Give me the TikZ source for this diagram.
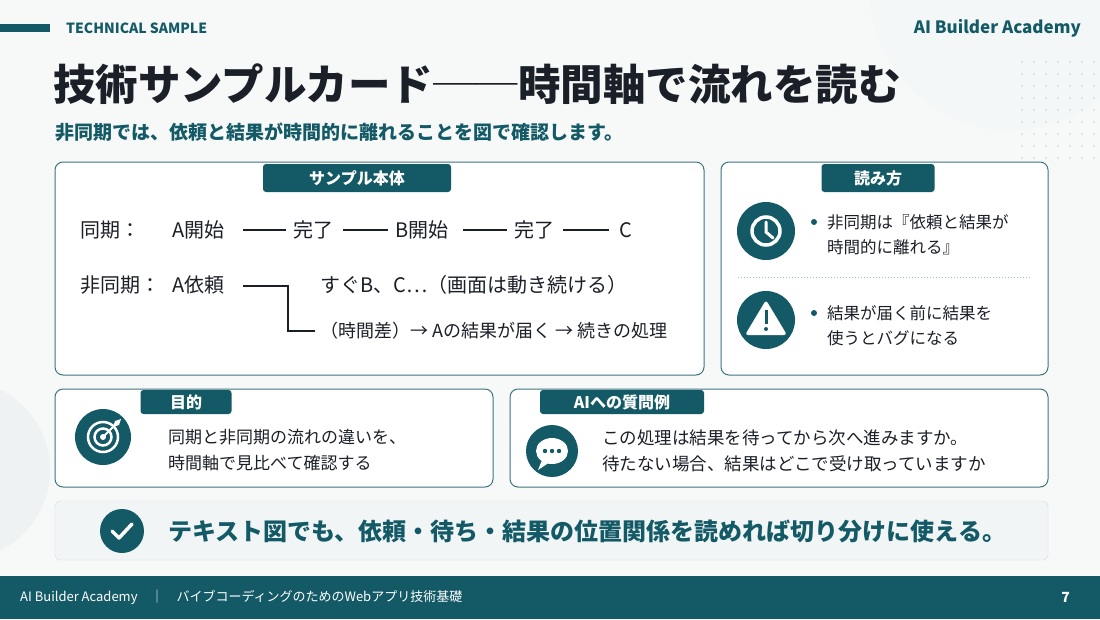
\documentclass[tikz,border=0pt]{standalone}
\usepackage{fontspec}
\setmainfont{Noto Sans CJK JP}
\newfontfamily\jpb{Noto Sans CJK JP Bold}[BoldFont={Noto Sans CJK JP Black}]
\begin{document}
\definecolor{teal1}{HTML}{145A66}
\definecolor{ink}{HTML}{1B1F28}
\definecolor{bgc}{HTML}{F7F8F8}
\definecolor{bord}{HTML}{3E7580}
\tikzset{x=1pt,y=-1pt,
 card/.style={draw=bord,line width=1pt,rounded corners=8pt,fill=white},
 tab/.style={fill=teal1,rounded corners=3pt,text=white,font=\bfseries\fontsize{16}{16}\selectfont,inner sep=0pt},
 row/.style={text=ink,font=\fontsize{20}{20}\selectfont,anchor=west,inner sep=0pt},
 txt/.style={text=ink,font=\fontsize{16.5}{25}\selectfont,anchor=west,inner sep=0pt,align=left},
 link/.style={draw=ink,line width=1.2pt},
 ic/.style={circle,fill=teal1,minimum size=58pt,inner sep=0pt}}
\begin{tikzpicture}
\useasboundingbox (0,0) rectangle (1100,619);
\fill[bgc] (0,0) rectangle (1100,619);
\fill[bgc!70!teal1!15] (1010,-10) circle (140);
\fill[bgc!96!teal1] (-40,470) circle (90);
\foreach \i in {0,...,6}{\foreach \j in {0,...,8}{\fill[teal1!25] (1022+12*\i,62+12*\j) circle (0.9);}}
% header
\fill[teal1] (0,24) rectangle (50,32);
\node[anchor=west,text=teal1,font=\bfseries\fontsize{14}{14}\selectfont,inner sep=0] (ts) at (66,28) {TECHNICAL SAMPLE};
\node[anchor=east,text=teal1,font=\bfseries\fontsize{17}{17}\selectfont,inner sep=0] (ab) at (1081,28) {AI Builder Academy};
\node[anchor=west,text=ink,font=\jpb\bfseries\fontsize{42.5}{42.5}\selectfont,inner sep=0] (title) at (53,84) {技術サンプルカード──時間軸で流れを読む};
\node[anchor=west,text=teal1,font=\bfseries\fontsize{19}{19}\selectfont,inner sep=0] (sub) at (55,132) {非同期では、依頼と結果が時間的に離れることを図で確認します。};
% main card
\draw[card] (55,162) rectangle (704,375);
\node[tab,minimum width=188pt,minimum height=28pt] (t1) at (357,178) {サンプル本体};
\node[row] (s1) at (80,230) {同期：};
\node[row] (a1) at (172,230) {A開始};
\node[row] (d1) at (293,230) {完了};
\node[row] (b1) at (395,230) {B開始};
\node[row] (d2) at (514,230) {完了};
\node[row] (c1) at (619,230) {C};
\draw[link] (243,230) -- ([xshift=-7pt]d1.west);
\draw[link] (343,230) -- ([xshift=-7pt]b1.west);
\draw[link] (463,230) -- ([xshift=-7pt]d2.west);
\draw[link] (563,230) -- ([xshift=-10pt]c1.west);
\node[row] (s2) at (80,285) {非同期：};
\node[row] (a2) at (172,285) {A依頼};
\node[row] (r1) at (320,285) {すぐB、C…（画面は動き続ける）};
\node[row,font=\fontsize{18}{18}\selectfont] (r2) at (320,331) {（時間差）→ Aの結果が届く → 続きの処理};
\coordinate (k1) at (288,286);
\draw[link] (243,286) -- (k1) -- (288,331) -- ([xshift=-5pt]r2.west);
% right card
\draw[card] (721,162) rectangle (1048,375);
\node[tab,minimum width=113pt,minimum height=28pt] (t2) at (878,178) {読み方};
\node[ic] (clk) at (766,231) {};
\draw[white,line width=3.5pt] (clk) circle (14);
\draw[white,line width=3pt,line cap=round] (766,222) -- (766,232) -- (773,238);
\fill[teal1] (814,222) circle (3);
\node[txt] (rt1) at (827,235) {非同期は『依頼と結果が\\時間的に離れる』};
\draw[teal1!40,dotted,line width=1pt] (738,277) -- (1032,277);
\node[ic] (wrn) at (766,320) {};
\fill[white,rounded corners=3pt] (766,300) -- (787,335) -- (745,335) -- cycle;
\fill[teal1] (764.5,310) rectangle (767.5,324);
\fill[teal1] (766,329) circle (2);
\fill[teal1] (814,313) circle (3);
\node[txt] (rt2) at (827,326) {結果が届く前に結果を\\使うとバグになる};
% purpose card
\draw[card] (55,389) rectangle (493,487);
\node[tab,minimum width=91pt,minimum height=24pt] (t3) at (186,402) {目的};
\node[ic,minimum size=56pt] (tgt) at (103,437) {};
\draw[white,line width=2.5pt] (tgt) circle (15);
\draw[white,line width=2.5pt] (tgt) circle (8.5);
\fill[white] (tgt) circle (3);
\draw[white,line width=2pt] (103,437) -- (116,424);
\fill[white] (115,421) -- (121,419) -- (119,425) -- (113,427) -- cycle;
\node[txt,font=\fontsize{17}{26}\selectfont] (pt) at (168,450) {同期と非同期の流れの違いを、\\時間軸で見比べて確認する};
% AI card
\draw[card] (510,389) rectangle (1048,487);
\node[tab,minimum width=164pt,minimum height=24pt] (t4) at (622,402) {AIへの質問例};
\node[ic,minimum size=52pt] (cht) at (552,451) {};
\fill[white] (552,451) ellipse (16 and 13);
\fill[white] (542,460) -- (538,470) -- (550,462) -- cycle;
\foreach \dx in {-7,0,7}{\fill[teal1] (552+\dx,451) circle (2.2);}
\node[txt,font=\fontsize{17.5}{26}\selectfont] (qt) at (602,451) {この処理は結果を待ってから次へ進みますか。\\待たない場合、結果はどこで受け取っていますか};
% banner
\draw[draw=teal1!20,fill=teal1!6,rounded corners=5pt] (55,501) rectangle (1048,560);
\node[circle,fill=teal1,minimum size=44pt,inner sep=0] (chk) at (122,531) {};
\draw[white,line width=3.5pt,line cap=round,line join=round] (112,531) -- (119,538) -- (132,524);
\node[anchor=west,text=teal1,font=\bfseries\fontsize{24}{24}\selectfont,inner sep=0] (bt) at (168,531) {テキスト図でも、依頼・待ち・結果の位置関係を読めれば切り分けに使える。};
% footer
\fill[teal1] (0,576) rectangle (1100,619);
\node[anchor=west,text=white,font=\fontsize{13}{13}\selectfont,inner sep=0] (ft) at (20,597) {AI Builder Academy\quad｜\quad バイブコーディングのためのWebアプリ技術基礎};
\node[anchor=east,text=white,font=\bfseries\fontsize{14}{14}\selectfont,inner sep=0] (pg) at (1070,597) {7};
\end{tikzpicture}
\end{document}
